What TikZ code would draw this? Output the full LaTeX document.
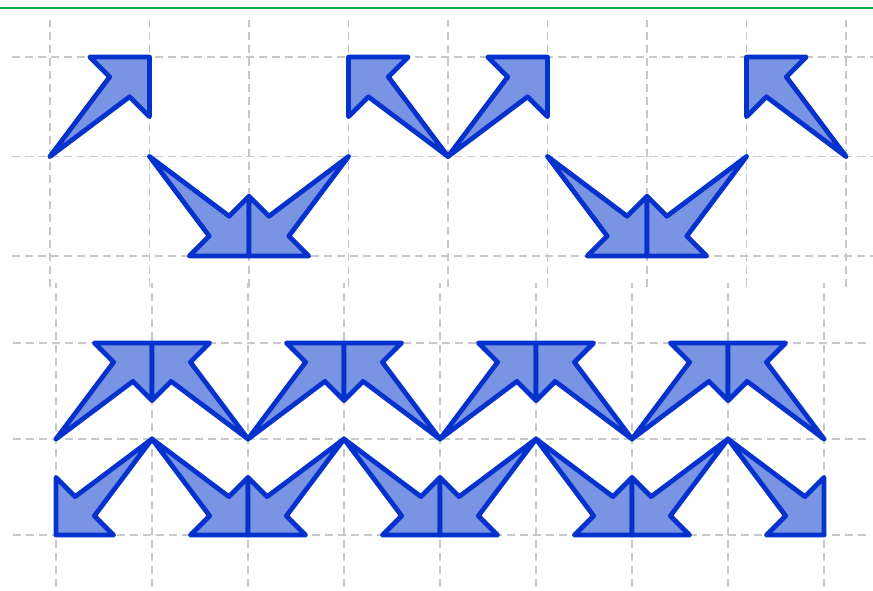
\documentclass[tikz,border=0pt]{standalone}
\definecolor{vien}{RGB}{5,50,205}
\definecolor{nen}{RGB}{122,148,228}
\definecolor{luoi}{RGB}{200,200,200}
\definecolor{xanhla}{RGB}{20,170,70}
\tikzset{
	luoinet/.style={luoi, line width=1.4pt, dash pattern=on 8pt off 5pt},
	pics/muiten/.style={code={
			\draw[vien, fill=nen, line width=4.8pt, line join=round]
			(0,0) -- (0.6,0.8) -- (0.4,1) -- (1,1) -- (1,0.4) -- (0.8,0.6) -- cycle;
	}}
}
\begin{document}
\begin{tikzpicture}[x=1pt, y=1pt]
	
	\useasboundingbox (0,0) rectangle (873,590);
	
	% Đường kẻ xanh phía trên
	\draw[xanhla, line width=2.5pt] (0,582) -- (873,582);
	
	% Hình trên
	\begin{scope}[shift={(50pt,334pt)}, x=99.5pt, y=99.5pt]
		% Lưới ô vuông
		\foreach \i in {0,...,8}
		\draw[luoinet] (\i,-0.31) -- (\i,2.37);
		\foreach \j in {0,1,2}
		\draw[luoinet] (-0.38,\j) -- (8.27,\j);
		
		% Các mũi tên
		\foreach \a/\sx/\sy in {0/1/1, 1/1/-1, 3/-1/-1, 4/-1/1, 4/1/1, 5/1/-1, 7/-1/-1, 8/-1/1}
		\pic[xscale=\sx, yscale=\sy] at (\a,1) {muiten};
	\end{scope}
	
	% Hình dưới
	\begin{scope}[shift={(56pt,55pt)}, x=96pt, y=96pt]
		% Lưới ô vuông
		\foreach \i in {0,...,8}
		\draw[luoinet] (\i,-0.54) -- (\i,2.63);
		\foreach \j in {0,1,2}
		\draw[luoinet] (-0.45,\j) -- (8.44,\j);
		
		% Hàng trên: mũi tên hướng lên
		\foreach \i in {0,2,4,6}{
			\pic at (\i,1) {muiten};
			\pic[xscale=-1] at (\i+2,1) {muiten};
		}
		
		% Hàng dưới: mũi tên hướng xuống
		\foreach \i in {1,3,5,7}{
			\pic[xscale=-1, yscale=-1] at (\i,1) {muiten};
			\pic[yscale=-1] at (\i,1) {muiten};
		}
	\end{scope}
	
\end{tikzpicture}
\end{document}
